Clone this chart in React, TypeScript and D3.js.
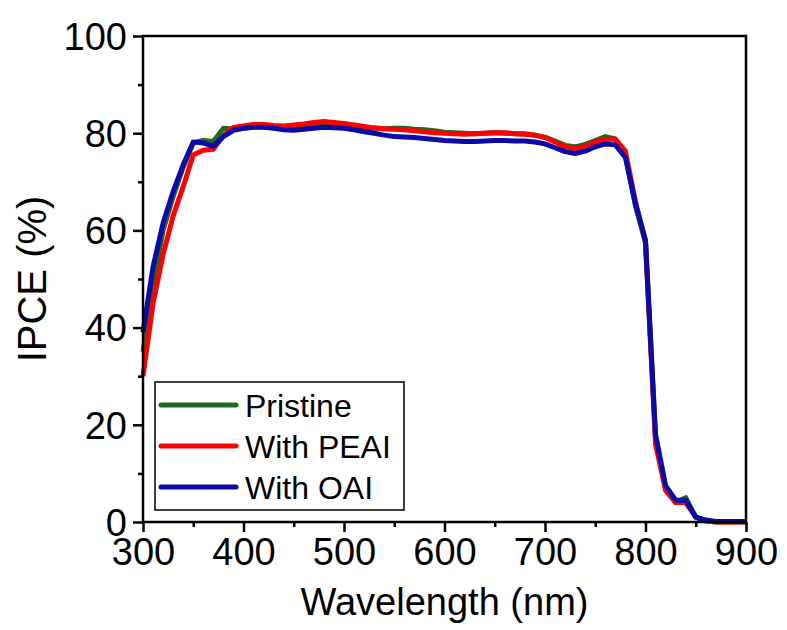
import { useEffect, useRef } from "react"
import { select, scaleLinear, line, axisLeft, axisBottom, range } from "d3"

const wavelengths = range(300, 901, 10)

const pristine = [
  35, 49, 60, 67, 73, 78, 78.5, 78.3, 81, 80.8,
  81, 81.3, 81.4, 81.3, 81, 81.2, 81.4, 81.6, 81.8, 81.6,
  81.5, 81.3, 81.1, 81, 80.9, 81, 81, 80.8, 80.7, 80.5,
  80.2, 80.1, 80, 79.9, 80, 80.1, 80, 79.9, 79.9, 79.6,
  79.2, 78.4, 77.5, 77.2, 77.7, 78.5, 79.3, 78.8, 75.5, 65,
  57.5, 17, 7, 4, 5, 1, 0.3, 0, 0, 0, 0,
]

const withPEAI = [
  30, 45, 55, 63, 69, 75.5, 76.5, 76.7, 79.5, 81.2,
  81.5, 81.8, 81.8, 81.6, 81.5, 81.7, 81.9, 82.2, 82.4, 82.2,
  82, 81.7, 81.4, 81.1, 80.9, 80.8, 80.7, 80.5, 80.3, 80.1,
  80, 79.9, 79.8, 79.9, 80, 80.1, 80.1, 79.9, 79.8, 79.6,
  79.1, 78.2, 77.2, 76.8, 77.3, 78.2, 78.7, 78.8, 76.3, 66,
  57.5, 16, 6.5, 4, 4, 1, 0.2, 0, 0, 0, 0,
]

const withOAI = [
  39, 52.5, 61.5, 68, 73.5, 78.2, 78, 77.3, 79.3, 80.6,
  81, 81.2, 81.2, 81, 80.7, 80.6, 80.8, 81, 81.2, 81.1,
  81, 80.7, 80.3, 80, 79.6, 79.3, 79.2, 79.1, 78.9, 78.7,
  78.5, 78.4, 78.3, 78.3, 78.4, 78.5, 78.5, 78.4, 78.4, 78.2,
  77.8, 77, 76.2, 75.8, 76.3, 77.2, 77.8, 77.6, 75, 65.5,
  58, 18, 7.5, 4.5, 4.5, 1, 0.4, 0.1, 0.1, 0.1, 0.1,
]

const seriesNames = ["Pristine", "With PEAI", "With OAI"]
const seriesColors = ["#1c6b1c", "#ff0000", "#0a0aa8"]
const xTicks = [300, 400, 500, 600, 700, 800, 900]
const yTicks = [0, 20, 40, 60, 80, 100]

const width = 787
const height = 630
const margin = { top: 36, right: 41, bottom: 108, left: 143 }
const font = "'Liberation Sans', Arial, sans-serif"

export default function App() {
  const svgRef = useRef<SVGSVGElement>(null)

  useEffect(() => {
    document.body.style.margin = "0"
    const svg = select(svgRef.current)
    svg.selectAll("*").remove()

    const innerW = width - margin.left - margin.right
    const innerH = height - margin.top - margin.bottom

    const x = scaleLinear().domain([300, 900]).range([0, innerW])
    const y = scaleLinear().domain([0, 100]).range([innerH, 0])

    const g = svg.append("g").attr("transform", `translate(${margin.left},${margin.top})`)

    // data lines
    const allSeries = [pristine, withPEAI, withOAI]
    const lineGen = line<number>()
      .x((d, i) => x(wavelengths[i]))
      .y((d) => y(d))

    g.selectAll(".series")
      .data(allSeries)
      .join("path")
      .attr("class", "series")
      .attr("d", (d) => lineGen(d))
      .attr("fill", "none")
      .attr("stroke", (d, i) => seriesColors[i])
      .attr("stroke-width", 5)
      .attr("stroke-linejoin", "round")

    // minor ticks
    const xMinor = axisBottom(x).tickValues(range(350, 900, 100)).tickSize(5).tickFormat(() => "")
    const yMinor = axisLeft(y).tickValues(range(10, 100, 20)).tickSize(5).tickFormat(() => "")

    const xAxis = axisBottom(x).tickValues(xTicks).tickSize(10).tickPadding(6)
    const yAxis = axisLeft(y).tickValues(yTicks).tickSize(10).tickPadding(6)

    const styleAxis = (sel: any) => {
      sel.select(".domain").remove()
      sel.selectAll("line").attr("stroke", "#000").attr("stroke-width", 2.5)
      sel.selectAll("text")
        .attr("fill", "#000")
        .style("font-family", font)
        .style("font-size", "38px")
    }

    g.append("g").attr("transform", `translate(0,${innerH})`).call(xMinor).call(styleAxis)
    g.append("g").call(yMinor).call(styleAxis)
    g.append("g").attr("transform", `translate(0,${innerH})`).call(xAxis).call(styleAxis)
    g.append("g").call(yAxis).call(styleAxis)
    g.selectAll(".tick text").attr("dy", null)
    g.selectAll<SVGTextElement, unknown>("g > .tick text")
      .filter(function () { return this.getAttribute("y") !== null && +this.getAttribute("y")! > 0 })
      .attr("dy", "0.71em")
    g.selectAll<SVGTextElement, unknown>(".tick text")
      .filter(function () { return this.getAttribute("x") !== null && +this.getAttribute("x")! < 0 })
      .attr("dy", "0.35em")

    // frame
    g.append("rect")
      .attr("width", innerW)
      .attr("height", innerH)
      .attr("fill", "none")
      .attr("stroke", "#000")
      .attr("stroke-width", 2.5)

    // axis titles
    svg.append("text")
      .attr("x", margin.left + innerW / 2)
      .attr("y", 615)
      .attr("text-anchor", "middle")
      .style("font-family", font)
      .style("font-size", "38px")
      .text("Wavelength (nm)")

    svg.append("text")
      .attr("transform", `translate(46,${margin.top + innerH / 2}) rotate(-90)`)
      .attr("text-anchor", "middle")
      .style("font-family", font)
      .style("font-size", "40px")
      .text("IPCE (%)")

    // legend
    const legend = svg.append("g").attr("transform", "translate(155,382)")
    legend.append("rect")
      .attr("width", 249)
      .attr("height", 128)
      .attr("fill", "#fff")
      .attr("stroke", "#000")
      .attr("stroke-width", 1.5)

    const items = legend.selectAll(".item")
      .data(seriesNames)
      .join("g")
      .attr("class", "item")
      .attr("transform", (d, i) => `translate(0,${23 + i * 41})`)

    items.append("line")
      .attr("x1", 6)
      .attr("x2", 81)
      .attr("stroke", (d, i) => seriesColors[i])
      .attr("stroke-width", 5)
      .attr("stroke-linecap", "round")

    items.append("text")
      .attr("x", 90)
      .attr("y", 12)
      .style("font-family", font)
      .style("font-size", "32px")
      .text((d) => d)
  }, [])

  return <svg ref={svgRef} width={width} height={height} style={{ display: "block", background: "#fff" }} />
}
